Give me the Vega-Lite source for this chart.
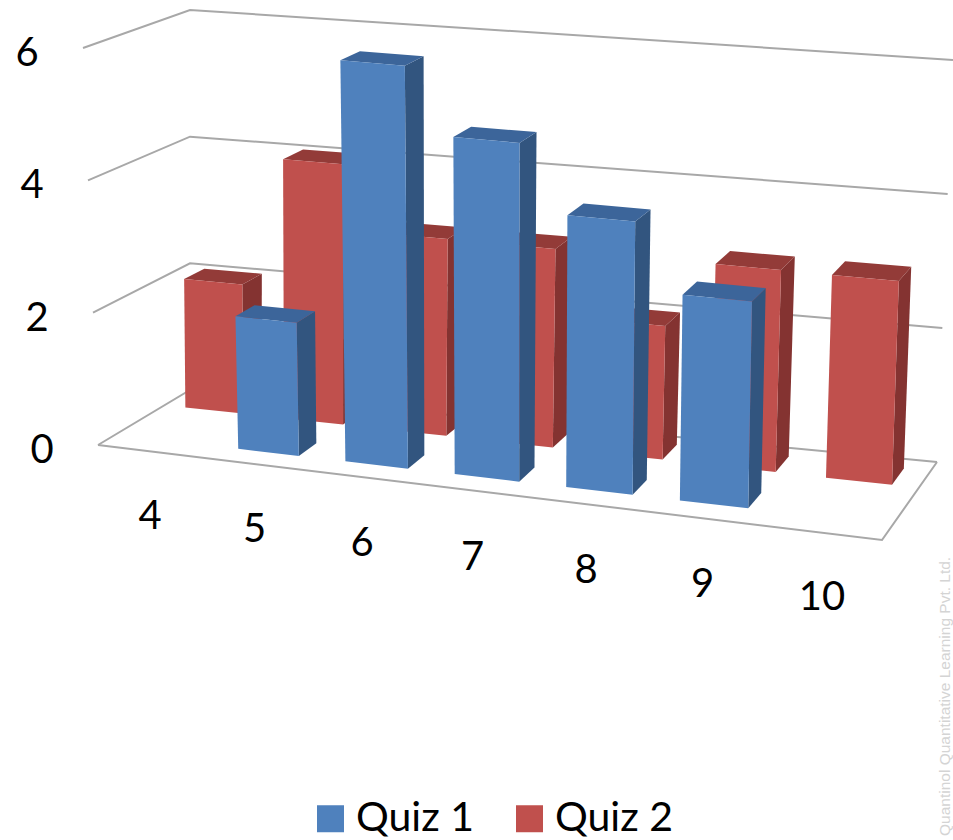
{
  "$schema": "https://vega.github.io/schema/vega-lite/v6.json",
  "width": 953,
  "height": 840,
  "padding": 0,
  "autosize": {"type": "none"},
  "background": "white",
  "config": {"view": {"stroke": null}},
  "datasets": {
    "scores": [
      {"score": 4, "quiz": "Quiz 1", "count": 0},
      {"score": 5, "quiz": "Quiz 1", "count": 2},
      {"score": 6, "quiz": "Quiz 1", "count": 6},
      {"score": 7, "quiz": "Quiz 1", "count": 5},
      {"score": 8, "quiz": "Quiz 1", "count": 4},
      {"score": 9, "quiz": "Quiz 1", "count": 3},
      {"score": 10, "quiz": "Quiz 1", "count": 0},
      {"score": 4, "quiz": "Quiz 2", "count": 2},
      {"score": 5, "quiz": "Quiz 2", "count": 4},
      {"score": 6, "quiz": "Quiz 2", "count": 3},
      {"score": 7, "quiz": "Quiz 2", "count": 3},
      {"score": 8, "quiz": "Quiz 2", "count": 2},
      {"score": 9, "quiz": "Quiz 2", "count": 3},
      {"score": 10, "quiz": "Quiz 2", "count": 3}
    ],
    "gridlevels": [{"level": 0}, {"level": 2}, {"level": 4}, {"level": 6}],
    "categories": [
      {"score": 4}, {"score": 5}, {"score": 6}, {"score": 7},
      {"score": 8}, {"score": 9}, {"score": 10}
    ],
    "credit": [{"text": "Quantinol Quantitative Learning Pvt. Ltd."}]
  },
  "layer": [
    {
      "data": {"name": "gridlevels"},
      "transform": [
        {"calculate": "[0,1,2]", "as": "vertex"},
        {"flatten": ["vertex"]},
        {"calculate": "datum.vertex == 2 ? 1 : 0", "as": "u"},
        {"calculate": "datum.vertex == 0 ? 0 : 1", "as": "d"},
        {"calculate": "datum.level", "as": "h"},
        {"calculate": "lerp([lerp([lerp([98,882],datum.u),lerp([190,937],datum.u)],datum.d),lerp([lerp([83,893],datum.u),lerp([190,953],datum.u)],datum.d)],datum.h/6)", "as": "px"},
        {"calculate": "lerp([lerp([lerp([445,540],datum.u),lerp([390,462],datum.u)],datum.d),lerp([lerp([48,118],datum.u),lerp([10,60],datum.u)],datum.d)],datum.h/6)", "as": "py"}
      ],
      "mark": {"type": "line", "color": "#a8a8a8", "strokeWidth": 2},
      "encoding": {
        "x": {"field": "px", "type": "quantitative", "scale": {"domain": [0, 953]}, "axis": null},
        "y": {"field": "py", "type": "quantitative", "scale": {"domain": [840, 0]}, "axis": null},
        "detail": {"field": "level"},
        "order": {"field": "vertex"}
      }
    },
    {
      "data": {"name": "gridlevels"},
      "transform": [
        {"filter": "datum.level == 0"},
        {"calculate": "[0,1,2]", "as": "vertex"},
        {"flatten": ["vertex"]},
        {"calculate": "datum.vertex == 0 ? 0 : 1", "as": "u"},
        {"calculate": "datum.vertex == 2 ? 1 : 0", "as": "d"},
        {"calculate": "lerp([lerp([98,882],datum.u),lerp([190,937],datum.u)],datum.d)", "as": "px"},
        {"calculate": "lerp([lerp([445,540],datum.u),lerp([390,462],datum.u)],datum.d)", "as": "py"}
      ],
      "mark": {"type": "line", "color": "#a8a8a8", "strokeWidth": 2},
      "encoding": {
        "x": {"field": "px", "type": "quantitative", "scale": {"domain": [0, 953]}, "axis": null},
        "y": {"field": "py", "type": "quantitative", "scale": {"domain": [840, 0]}, "axis": null},
        "order": {"field": "vertex"}
      }
    },
    {
      "data": {"name": "scores"},
      "transform": [
        {"filter": "datum.count > 0"},
        {"calculate": "0.158 + 0.1365 * (datum.score - 5) + 0.0014 * (datum.score - 5) * (datum.score - 5) + (datum.quiz == 'Quiz 2' ? 0.002 + 0.0005 * (10 - datum.score) - 0.0007 * (datum.score - 4) * (10 - datum.score) : 0)", "as": "u0"},
        {"calculate": "datum.u0 + 0.078 + (datum.quiz == 'Quiz 2' ? 0.0018 : 0.0025) * (datum.score - 5)", "as": "u1"},
        {"calculate": "datum.quiz == 'Quiz 1' ? 0.19 : 0.72 - 0.008 * (datum.score - 4)", "as": "d0"},
        {"calculate": "datum.d0 + 0.21", "as": "d1"},
        {"calculate": "['side','top','front']", "as": "face"},
        {"flatten": ["face"]},
        {"calculate": "[0,1,2,3]", "as": "corner"},
        {"flatten": ["corner"]},
        {"calculate": "datum.face == 'side' || datum.corner == 1 || datum.corner == 2 ? datum.u1 : datum.u0", "as": "u"},
        {"calculate": "datum.face == 'front' ? datum.d0 : datum.face == 'side' ? (datum.corner == 1 || datum.corner == 2 ? datum.d1 : datum.d0) : (datum.corner >= 2 ? datum.d1 : datum.d0)", "as": "d"},
        {"calculate": "datum.face == 'top' || datum.corner >= 2 ? datum.count : 0", "as": "h"},
        {"calculate": "lerp([lerp([lerp([98,882],datum.u),lerp([190,937],datum.u)],datum.d),lerp([lerp([83,893],datum.u),lerp([190,953],datum.u)],datum.d)],datum.h/6)", "as": "px"},
        {"calculate": "lerp([lerp([lerp([445,540],datum.u),lerp([390,462],datum.u)],datum.d),lerp([lerp([48,118],datum.u),lerp([10,60],datum.u)],datum.d)],datum.h/6)", "as": "py"},
        {"calculate": "datum.face == 'front' ? datum.quiz : datum.quiz + ' ' + datum.face", "as": "part"},
        {"calculate": "datum.quiz + datum.score + datum.face", "as": "polygon"}
      ],
      "layer": [
        {
          "transform": [{"filter": "datum.quiz == 'Quiz 2'"}],
          "mark": {"type": "line", "strokeWidth": 0, "interpolate": "linear"},
          "encoding": {
            "x": {"field": "px", "type": "quantitative", "scale": {"domain": [0, 953]}, "axis": null},
            "y": {"field": "py", "type": "quantitative", "scale": {"domain": [840, 0]}, "axis": null},
            "fill": {
              "field": "part",
              "type": "nominal",
              "scale": {
                "domain": ["Quiz 1", "Quiz 2", "Quiz 1 side", "Quiz 1 top", "Quiz 2 side", "Quiz 2 top"],
                "range": ["#4f81bd", "#c0504d", "#32557f", "#3c659a", "#843331", "#933b38"]
              },
              "legend": {
                "values": ["Quiz 1", "Quiz 2"],
                "orient": "none",
                "legendX": 310,
                "legendY": 798,
                "direction": "horizontal",
                "title": null,
                "symbolType": "square",
                "symbolSize": 729,
                "symbolStrokeWidth": 0,
                "symbolOpacity": 1,
                "labelFont": "Lato",
                "labelFontSize": 41,
                "labelColor": "#000000",
                "labelOffset": 5,
                "columnPadding": 34
              }
            },
            "detail": {"field": "polygon"},
            "order": {"field": "corner"}
          }
        },
        {
          "transform": [{"filter": "datum.quiz == 'Quiz 1'"}],
          "mark": {"type": "line", "strokeWidth": 0, "interpolate": "linear"},
          "encoding": {
            "x": {"field": "px", "type": "quantitative", "scale": {"domain": [0, 953]}, "axis": null},
            "y": {"field": "py", "type": "quantitative", "scale": {"domain": [840, 0]}, "axis": null},
            "fill": {"field": "part", "type": "nominal"},
            "detail": {"field": "polygon"},
            "order": {"field": "corner"}
          }
        }
      ]
    },
    {
      "data": {"name": "gridlevels"},
      "transform": [
        {"calculate": "lerp([83,98],1 - datum.level/6) - 56", "as": "px"},
        {"calculate": "lerp([445,48],datum.level/6) + 6", "as": "py"}
      ],
      "mark": {"type": "text", "font": "Lato", "fontSize": 40, "color": "#000000", "align": "center", "baseline": "middle"},
      "encoding": {
        "x": {"field": "px", "type": "quantitative", "scale": {"domain": [0, 953]}, "axis": null},
        "y": {"field": "py", "type": "quantitative", "scale": {"domain": [840, 0]}, "axis": null},
        "text": {"field": "level", "type": "quantitative"}
      }
    },
    {
      "data": {"name": "categories"},
      "transform": [
        {"calculate": "(datum.score - 3.5) / 7", "as": "u"},
        {"calculate": "lerp([98,882],datum.u) - 4 - 1.5 * (datum.score - 4) * (10 - datum.score)", "as": "px"},
        {"calculate": "lerp([445,540],datum.u) + 65", "as": "py"}
      ],
      "mark": {"type": "text", "font": "Lato", "fontSize": 40, "color": "#000000", "align": "center", "baseline": "middle"},
      "encoding": {
        "x": {"field": "px", "type": "quantitative", "scale": {"domain": [0, 953]}, "axis": null},
        "y": {"field": "py", "type": "quantitative", "scale": {"domain": [840, 0]}, "axis": null},
        "text": {"field": "score", "type": "quantitative"}
      }
    },
    {
      "data": {"name": "credit"},
      "mark": {"type": "text", "font": "Liberation Sans", "fontSize": 15.5, "color": "#d4d4d4", "angle": 270, "align": "left", "baseline": "middle", "x": 945, "y": 836},
      "encoding": {"text": {"field": "text"}}
    }
  ]
}
